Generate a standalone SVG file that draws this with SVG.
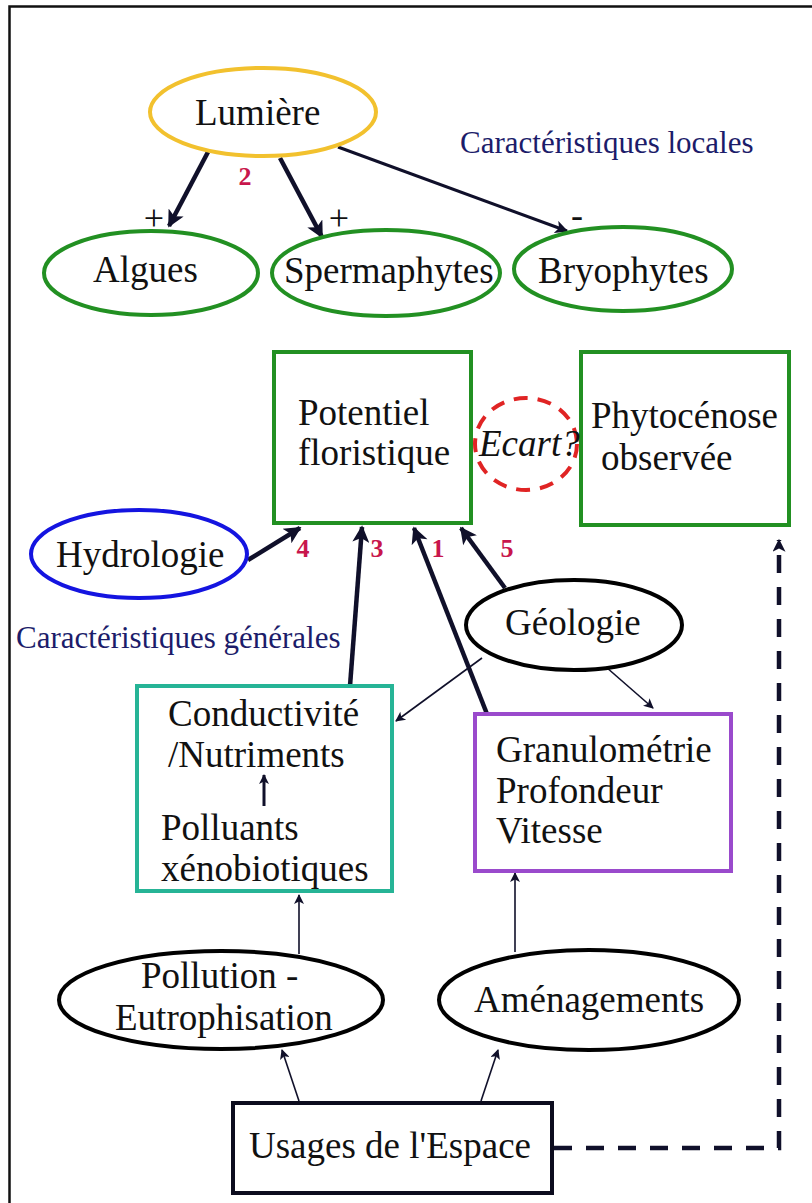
<svg xmlns="http://www.w3.org/2000/svg" width="812" height="1203" viewBox="0 0 812 1203">
<style>
.t{font-family:"Liberation Serif","Times New Roman",serif;font-size:37px;fill:#111}
.nav{font-family:"Liberation Serif","Times New Roman",serif;font-size:31px;fill:#1c1c6a}
.num{font-family:"Liberation Serif","Times New Roman",serif;font-size:26px;font-weight:bold;fill:#c8164c}
.sg{font-family:"Liberation Serif","Times New Roman",serif;font-size:36px;fill:#111}
.gr{fill:#fff;stroke:#229022;stroke-width:4}
.bk{fill:#fff;stroke:#000;stroke-width:4}
.thick{stroke:#10102a;stroke-width:4.5;fill:none}
.med{stroke:#10102a;stroke-width:3;fill:none}
.thin{stroke:#10102a;stroke-width:1.6;fill:none}
</style>
<defs>
<marker id="ab" viewBox="0 0 10 10" refX="9" refY="5" markerWidth="20" markerHeight="17" markerUnits="userSpaceOnUse" orient="auto">
<path d="M0,0 L10,5 L0,10 L2.5,5 z" fill="#10102a"/>
</marker>
<marker id="am" viewBox="0 0 10 10" refX="9" refY="5" markerWidth="16" markerHeight="13" markerUnits="userSpaceOnUse" orient="auto">
<path d="M0,0 L10,5 L0,10 L2.5,5 z" fill="#10102a"/>
</marker>
<marker id="as" viewBox="0 0 10 10" refX="9" refY="5" markerWidth="12" markerHeight="10" markerUnits="userSpaceOnUse" orient="auto">
<path d="M0,0 L10,5 L0,10 L2.5,5 z" fill="#10102a"/>
</marker>
</defs>
<rect width="812" height="1203" fill="#fff"/>
<path d="M9.5,1203 V6.5 H812" fill="none" stroke="#111" stroke-width="2.5"/>

<g id="connectors">
<line class="thick" x1="208" y1="152" x2="169" y2="226" marker-end="url(#ab)"/>
<line class="thick" x1="280" y1="158" x2="322" y2="237" marker-end="url(#ab)"/>
<line class="med" x1="338" y1="147" x2="567" y2="231" marker-end="url(#am)"/>
<line class="thick" x1="248" y1="560" x2="300" y2="528" marker-end="url(#ab)"/>
<line class="thick" x1="350" y1="686" x2="362" y2="527" marker-end="url(#ab)"/>
<line class="thick" x1="487" y1="714" x2="414" y2="528" marker-end="url(#ab)"/>
<line class="thick" x1="505" y1="588" x2="461" y2="528" marker-end="url(#ab)"/>
<line class="thin" x1="482" y1="658" x2="396" y2="721" marker-end="url(#as)"/>
<line class="thin" x1="606" y1="667" x2="653" y2="708" marker-end="url(#as)"/>
<line class="med" x1="264" y1="806" x2="264" y2="775" marker-end="url(#as)"/>
<line class="thin" x1="299" y1="954" x2="299" y2="895" marker-end="url(#as)"/>
<line class="thin" x1="515" y1="952" x2="515" y2="873" marker-end="url(#as)"/>
<line class="thin" x1="299" y1="1101" x2="282" y2="1050" marker-end="url(#as)"/>
<line class="thin" x1="481" y1="1101" x2="498" y2="1050" marker-end="url(#as)"/>
<path class="thick" d="M554,1148 H779 V540" stroke-dasharray="18,14" marker-end="url(#am)"/>
</g>

<g id="lumiere">
<ellipse cx="263" cy="112" rx="113" ry="44" fill="#fff" stroke="#f2c12e" stroke-width="4"/>
<text class="t" x="195" y="125">Lumière</text>
</g>
<g id="caract-locales"><text class="nav" x="460" y="153">Caractéristiques locales</text></g>
<g id="labels-top">
<text class="num" x="245" y="185" text-anchor="middle">2</text>
<text class="sg" x="154" y="230" text-anchor="middle">+</text>
<text class="sg" x="339" y="230" text-anchor="middle">+</text>
<text class="sg" x="577" y="227" text-anchor="middle">-</text>
</g>
<g id="algues">
<ellipse class="gr" cx="151" cy="273" rx="107" ry="42"/>
<text class="t" x="93" y="282">Algues</text>
</g>
<g id="spermaphytes">
<ellipse class="gr" cx="386" cy="273" rx="114" ry="43"/>
<text class="t" x="284" y="283">Spermaphytes</text>
</g>
<g id="bryophytes">
<ellipse class="gr" cx="623" cy="269" rx="109" ry="42"/>
<text class="t" x="538" y="283">Bryophytes</text>
</g>

<g id="potentiel">
<rect class="gr" x="274" y="352" width="197" height="171"/>
<text class="t" x="298" y="425">Potentiel</text>
<text class="t" x="298" y="465">floristique</text>
</g>
<g id="phytocenose">
<rect class="gr" x="581" y="352" width="208" height="173"/>
<text class="t" x="591" y="428">Phytocénose</text>
<text class="t" x="601" y="470">observée</text>
</g>
<g id="ecart">
<ellipse cx="526" cy="444" rx="51" ry="46" fill="none" stroke="#e02424" stroke-width="4" stroke-dasharray="14,10"/>
<text class="t" x="479" y="456" font-style="italic">Ecart?</text>
</g>

<g id="hydrologie">
<ellipse cx="139" cy="554" rx="108" ry="44" fill="#fff" stroke="#1414e0" stroke-width="4"/>
<text class="t" x="56" y="567">Hydrologie</text>
</g>
<g id="numbers">
<text class="num" x="303" y="557" text-anchor="middle">4</text>
<text class="num" x="377" y="557" text-anchor="middle">3</text>
<text class="num" x="438" y="557" text-anchor="middle">1</text>
<text class="num" x="507" y="557" text-anchor="middle">5</text>
</g>
<g id="geologie">
<ellipse class="bk" cx="574" cy="625" rx="108" ry="45"/>
<text class="t" x="505" y="635">Géologie</text>
</g>
<g id="caract-generales"><text class="nav" x="16" y="648">Caractéristiques générales</text></g>

<g id="conductivite">
<rect x="137" y="686" width="255" height="205" fill="none" stroke="#26b496" stroke-width="4"/>
<text class="t" x="168" y="726">Conductivité</text>
<text class="t" x="168" y="767">/Nutriments</text>
<text class="t" x="161" y="840">Polluants</text>
<text class="t" x="161" y="881">xénobiotiques</text>
</g>
<g id="granulometrie">
<rect x="475" y="714" width="256" height="157" fill="#fff" stroke="#9a4acc" stroke-width="4"/>
<text class="t" x="496" y="762">Granulométrie</text>
<text class="t" x="496" y="803">Profondeur</text>
<text class="t" x="496" y="843">Vitesse</text>
</g>
<g id="pollution">
<ellipse class="bk" cx="221" cy="1000" rx="162" ry="49"/>
<text class="t" x="141" y="988">Pollution -</text>
<text class="t" x="115" y="1030">Eutrophisation</text>
</g>
<g id="amenagements">
<ellipse class="bk" cx="589" cy="1000" rx="150" ry="50"/>
<text class="t" x="474" y="1012">Aménagements</text>
</g>
<g id="usages">
<rect x="233" y="1103" width="319" height="90" fill="#fff" stroke="#0c0c1e" stroke-width="4"/>
<text class="t" x="249" y="1158">Usages de l'Espace</text>
</g>
</svg>
